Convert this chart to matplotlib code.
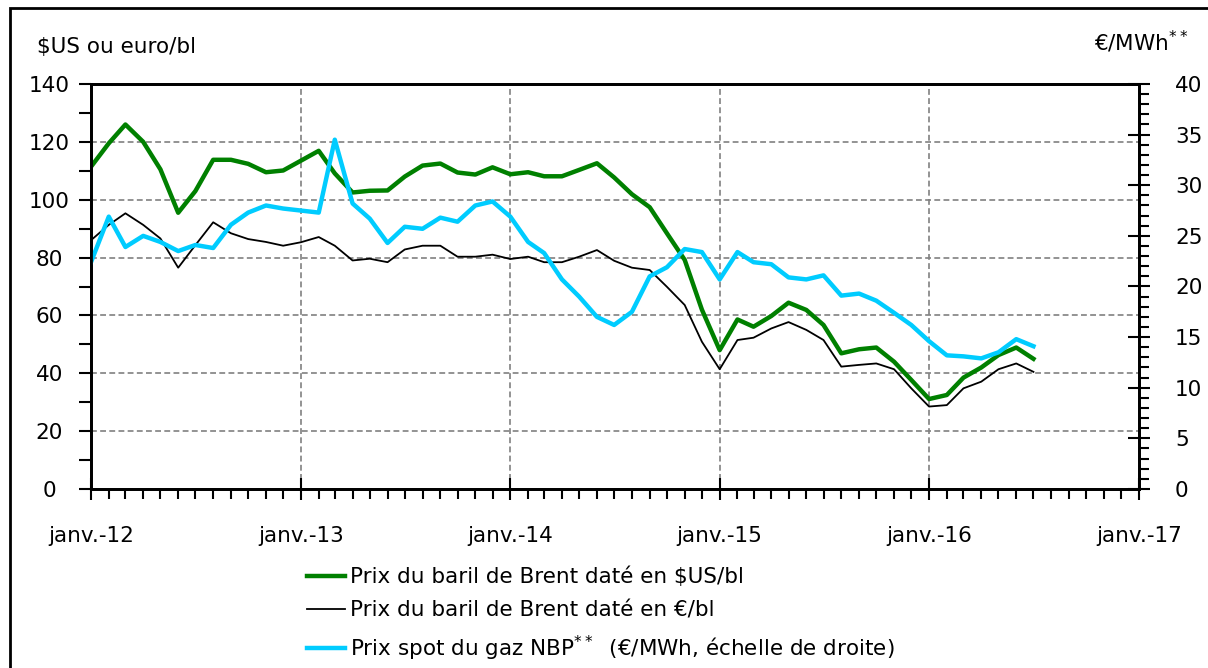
import matplotlib
matplotlib.use("Agg")
import matplotlib.pyplot as plt
import matplotlib.dates as mdates
import matplotlib.ticker as ticker
from matplotlib.patches import Rectangle
import pandas as pd

# monthly data, janv. 2012 -> juil. 2016
months = pd.date_range("2012-01-01", "2016-07-01", freq="MS")

brent_usd = [111.4, 119.5, 126.0, 120.0, 110.5, 95.5, 103.0, 113.8, 113.8, 112.4, 109.5, 110.1,
             113.5, 116.9, 109.1, 102.5, 103.1, 103.2, 108.0, 111.8, 112.5, 109.4, 108.7, 111.2,
             108.8, 109.5, 108.1, 108.1, 110.3, 112.6, 107.7, 101.9, 97.4, 88.4, 79.2, 62.0,
             48.0, 58.6, 56.1, 59.8, 64.4, 61.9, 56.7, 46.9, 48.3, 48.9, 44.0, 37.7,
             31.1, 32.5, 38.5, 42.0, 46.3, 48.9, 45.0]

brent_eur = [86.0, 91.3, 95.3, 91.3, 86.6, 76.5, 84.3, 92.2, 88.4, 86.4, 85.4, 84.1,
             85.3, 87.1, 84.1, 79.0, 79.6, 78.4, 82.8, 84.1, 84.1, 80.3, 80.3, 81.0,
             79.5, 80.3, 78.4, 78.4, 80.3, 82.6, 78.9, 76.5, 75.7, 69.9, 63.6, 50.9,
             41.4, 51.5, 52.3, 55.5, 57.7, 55.0, 51.5, 42.3, 42.9, 43.4, 41.4, 34.8,
             28.5, 29.0, 34.8, 37.1, 41.4, 43.4, 40.5]

gas_nbp = [22.4, 26.9, 23.9, 25.0, 24.4, 23.5, 24.1, 23.8, 26.1, 27.3, 28.0, 27.7,
           27.5, 27.3, 34.5, 28.2, 26.7, 24.3, 25.9, 25.7, 26.8, 26.4, 28.0, 28.4,
           26.9, 24.4, 23.3, 20.7, 19.0, 17.0, 16.2, 17.5, 21.0, 21.9, 23.7, 23.4,
           20.7, 23.4, 22.4, 22.2, 20.9, 20.7, 21.1, 19.1, 19.3, 18.6, 17.4, 16.2,
           14.6, 13.2, 13.1, 12.9, 13.5, 14.8, 14.1]

left_ticks = [0, 20, 40, 60, 80, 100, 120, 140]
year_labels = ["janv.-12", "janv.-13", "janv.-14", "janv.-15", "janv.-16", "janv.-17"]

plt.rcParams["font.family"] = "DejaVu Sans"
plt.rcParams["mathtext.fontset"] = "dejavusans"
fs = 15.5

green = "#008000"
cyan = "#00CCFF"

fig = plt.figure(figsize=(12.08, 6.68), dpi=100)
ax = fig.add_axes([91/1208, 1-489/668, (1139-91)/1208, (489-84)/668])

l1, = ax.plot(months, brent_usd, color=green, lw=3.2, label="Prix du baril de Brent daté en $US/bl")
l2, = ax.plot(months, brent_eur, color="black", lw=1.3, label="Prix du baril de Brent daté en €/bl")

ax.set_ylim(0, 140)
ax.set_xlim(pd.Timestamp("2012-01-01"), pd.Timestamp("2017-01-01"))
ax.set_yticks(left_ticks)
ax.set_yticklabels([str(v) for v in left_ticks], ha="center")
ax.yaxis.set_minor_locator(ticker.MultipleLocator(10))
ax.set_xticks([pd.Timestamp("20%s-01-01" % s[-2:]) for s in year_labels])
ax.set_xticklabels(year_labels)
ax.xaxis.set_minor_locator(mdates.MonthLocator())

ax.grid(True, which="major", color="#808080", ls=(0, (3.5, 2)), lw=1.2)
ax.set_axisbelow(True)

ax.tick_params(axis="y", which="both", direction="out", length=9, width=1.5,
               labelsize=fs, pad=21)
ax.tick_params(axis="x", which="major", direction="inout", length=16, width=1.5,
               labelsize=fs, pad=19)
ax.tick_params(axis="x", which="minor", direction="out", length=7, width=1.5)
for s in ax.spines.values():
    s.set_linewidth(2)

ax2 = ax.twinx()
l3, = ax2.plot(months, gas_nbp, color=cyan, lw=3.2,
               label="Prix spot du gaz NBP$^{**}$  (€/MWh, échelle de droite)")
ax2.set_ylim(0, 40)
ax2.yaxis.set_major_locator(ticker.MultipleLocator(5))
ax2.yaxis.set_minor_locator(ticker.MultipleLocator(1))
ax2.tick_params(axis="y", which="major", direction="inout", length=16, width=1.5,
                labelsize=fs, pad=18)
ax2.tick_params(axis="y", which="minor", direction="out", length=7, width=1.5)
for s in ax2.spines.values():
    s.set_linewidth(2)

fig.text(37/1208, 1-47/668, "$US ou euro/bl", fontsize=fs, ha="left", va="center")
fig.text(1188/1208, 1-42/668, "€/MWh$^{**}$", fontsize=fs, ha="right", va="center")

fig.legend(handles=[l1, l2, l3], loc="upper left", bbox_to_anchor=(307/1208, 1-567/668),
           frameon=False, fontsize=fs, handlelength=1.75, handletextpad=0.25,
           borderpad=0, borderaxespad=0, labelspacing=0.6)

# outer frame
fig.patches.append(Rectangle((10/1208, -0.05), 1.1, 0.05+1-8/668, transform=fig.transFigure,
                             fill=False, lw=2, edgecolor="black", clip_on=False))

fig.savefig("out.png", dpi=100)
